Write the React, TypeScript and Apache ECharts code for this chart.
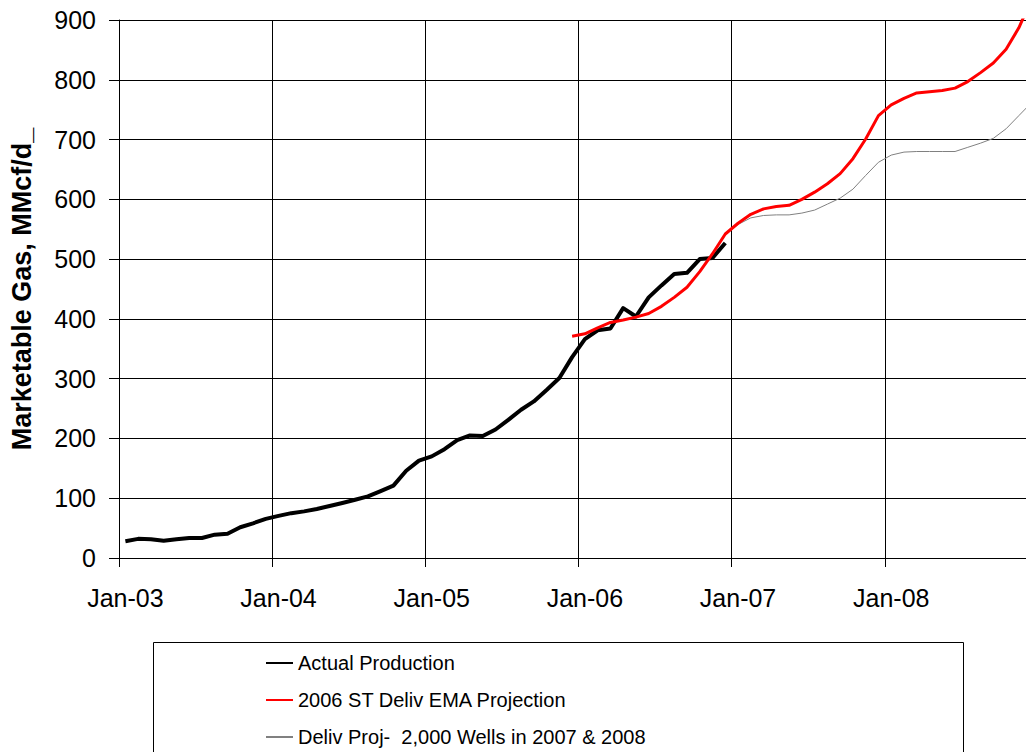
import React, { useEffect, useRef } from "react";
import * as echarts from "echarts";

const years = ["03", "04", "05", "06", "07", "08"];
const monthNames = ["Jan", "Feb", "Mar", "Apr", "May", "Jun", "Jul", "Aug", "Sep", "Oct", "Nov", "Dec"];
const categories = years.flatMap((y) => monthNames.map((m) => `${m}-${y}`));

const actualProduction = [
  28, 32, 31.5, 29, 31.5, 33.5, 33.5, 39, 40.5, 51.5, 58, 65.5,
  70.5, 75, 78, 82, 87, 92, 97.5, 103, 112, 121, 146, 163,
  170, 182, 197, 205, 204, 215, 231, 248, 262, 281, 301, 336,
  366, 381, 384, 418, 404, 436, 456, 475, 477, 500, 502, 527,
];

// starts Dec-05 (index 35)
const emaProjectionStart = 35;
const emaProjection = [
  371, 375, 385, 394, 398, 403, 409, 421, 436, 453, 479, 509, 542,
  560, 575, 584, 588, 590, 600, 612, 626, 643, 668, 701, 740,
  758, 769, 778, 780, 782, 786, 797, 812, 828, 851, 887, 935,
];

// starts Dec-06 (index 47)
const wellsProjectionStart = 47;
const wellsProjection = [
  542,
  558, 569, 573, 574, 574, 577, 582, 592, 602, 617, 640, 662,
  674, 679, 680, 680, 680, 680, 687, 694, 702, 718, 740, 762,
];

const seriesNames = [
  "Actual Production",
  "2006 ST Deliv EMA Projection",
  "Deliv Proj-  2,000 Wells in 2007 & 2008",
];

const pad = (start: number, arr: number[]) => {
  const out: (number | null)[] = [];
  for (let i = 0; i < start; i++) out.push(null);
  return out.concat(arr);
};

const FONT = "'Liberation Sans', Arial, Helvetica, sans-serif";

export default function App() {
  const ref = useRef<HTMLDivElement>(null);
  useEffect(() => {
    if (!ref.current) return;
    const chart = echarts.init(ref.current, undefined, { renderer: "svg" });
    chart.setOption({
      animation: false,
      backgroundColor: "#fff",
      grid: { left: 118, top: 20, right: 2, height: 538, containLabel: false },
      xAxis: {
        type: "category",
        data: categories,
        boundaryGap: true,
        axisLine: { show: true, lineStyle: { color: "#000", width: 1 } },
        axisTick: { show: true, interval: 11, length: 9, lineStyle: { color: "#000", width: 1 } },
        axisLabel: {
          interval: 11,
          margin: 27,
          color: "#000",
          fontSize: 25,
          fontFamily: FONT,
        },
        splitLine: { show: true, interval: 11, lineStyle: { color: "#000", width: 1 } },
      },
      yAxis: {
        type: "value",
        min: 0,
        max: 900,
        interval: 100,
        name: "Marketable Gas, MMcf/d_",
        nameLocation: "middle",
        nameGap: 84,
        nameTextStyle: { fontSize: 27, fontWeight: "bold", color: "#000", fontFamily: FONT },
        axisLine: { show: true, lineStyle: { color: "#000", width: 1 } },
        axisTick: { show: true, length: 10, lineStyle: { color: "#000", width: 1 } },
        axisLabel: { margin: 23, color: "#000", fontSize: 25, fontFamily: FONT },
        splitLine: { show: true, lineStyle: { color: "#000", width: 1 } },
      },
      legend: {
        orient: "vertical",
        left: 265,
        top: 651,
        padding: 0,
        itemWidth: 27,
        itemHeight: 2,
        itemGap: 13,
        data: seriesNames,
        itemStyle: { opacity: 0 },
        textStyle: { fontSize: 20, lineHeight: 24, color: "#000", fontFamily: FONT },
      },
      graphic: [
        {
          type: "rect",
          shape: { x: 153.5, y: 642.5, width: 810, height: 140 },
          style: { fill: "none", stroke: "#000", lineWidth: 1 },
          z: 0,
        },
      ],
      series: [
        {
          name: seriesNames[0],
          type: "line",
          data: actualProduction,
          symbol: "none",
          lineStyle: { color: "#000", width: 4, join: "round" },
          itemStyle: { color: "#000" },
          z: 3,
        },
        {
          name: seriesNames[1],
          type: "line",
          data: pad(emaProjectionStart, emaProjection),
          symbol: "none",
          lineStyle: { color: "#ff0000", width: 3, join: "round" },
          itemStyle: { color: "#ff0000" },
          z: 4,
        },
        {
          name: seriesNames[2],
          type: "line",
          data: pad(wellsProjectionStart, wellsProjection),
          symbol: "none",
          lineStyle: { color: "#808080", width: 1 },
          itemStyle: { color: "#808080" },
          z: 2,
        },
      ],
    });
    return () => chart.dispose();
  }, []);
  return (
    <div style={{ position: "absolute", left: 0, top: 0, width: 1026, height: 752, overflow: "hidden" }}>
      <div ref={ref} style={{ position: "absolute", left: 0, top: 0, width: 1040, height: 800 }} />
    </div>
  );
}
